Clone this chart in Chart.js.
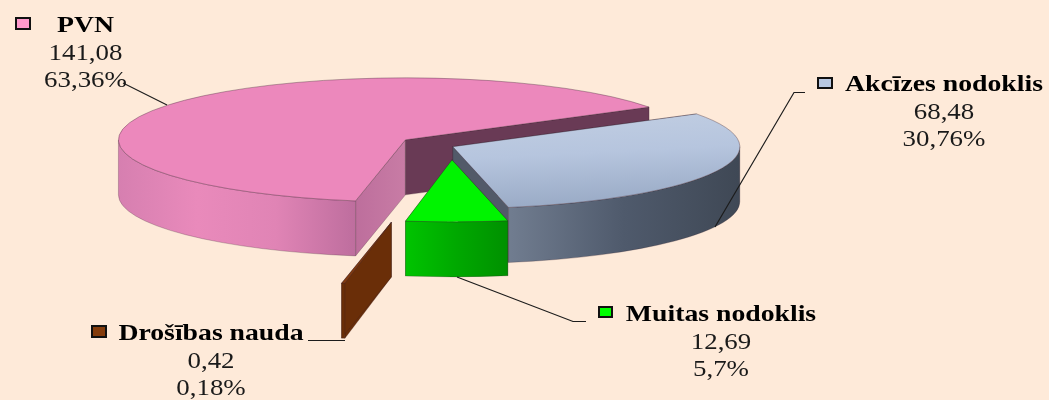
<!DOCTYPE html>
<html>
<head>
<meta charset="utf-8">
<script src="https://cdn.jsdelivr.net/npm/chart.js@4"></script>
<style>
  html, body { margin: 0; padding: 0; background: #feead9; }
  canvas { display: block; filter: blur(0.45px); }
</style>
</head>
<body>
<canvas id="taxChart" width="1049" height="400"></canvas>
<script>
// Chart data
const categories = ["PVN", "Akcīzes nodoklis", "Muitas nodoklis", "Drošības nauda"];
const amounts = [141.08, 68.48, 12.69, 0.42];
const amountLabels = ["141,08", "68,48", "12,69", "0,42"];
const shareLabels = ["63,36%", "30,76%", "5,7%", "0,18%"];

// Look of the tilted pie
const squash = 0.216;
const depth = 55;
const explode = [55, 2, 62, 355];
const drawOrder = [0, 3, 1, 2];
const swatchColors = ["#ff99cc", "#b8c8e2", "#00ff00", "#843c0c"];
const titleStretch = 1.155;
const textStretch = 1.12;

const labelBoxes = [
  { x: 85.5, y: 32, swatch: [15, 17, 16, 13] },
  { x: 944, y: 91, swatch: [817, 77, 16, 12] },
  { x: 721, y: 321, swatch: [598, 306, 15, 12] },
  { x: 211, y: 340, swatch: [91, 325, 16, 13] },
];
const leaders = [
  [[123, 83], [167, 105]],
  [[715, 227], [794, 92.5], [805, 92.5]],
  [[457, 277], [573, 321.5], [586, 321.5]],
  [[308, 340.5], [345, 340.5]],
];

const canvas = document.getElementById("taxChart");
const ctx = canvas.getContext("2d");

function hGradient(x0, x1, stops) {
  const g = ctx.createLinearGradient(x0, 0, x1, 0);
  stops.forEach((c, i) => g.addColorStop(i / (stops.length - 1), c));
  return g;
}

const akcizesTop = ctx.createLinearGradient(520, -100, 640, 400);
akcizesTop.addColorStop(0, "#c6d2e4");
akcizesTop.addColorStop(0.55, "#b6c5de");
akcizesTop.addColorStop(1, "#9aabc6");

const wallFills = [
  hGradient(118, 355, ["#d67fb0", "#e98abb", "#e084b5", "#be6e9e"]),
  hGradient(508, 739, ["#717d90", "#4f5a6c", "#3f4855"]),
  hGradient(405, 509, ["#00c400", "#00a800", "#009000"]),
  "#6a2e08",
];
const startFaces = [hGradient(355, 405, ["#bd6e9c", "#c87ca5"]), "#525a69", "#009000", "#6a2e08"];
const endFaces = ["#693a55", "#525a69", "#00c400", "#6a2e08"];

function edgeFace(el, dx, dy, angle, fill) {
  const x0 = el.x + dx;
  const y0 = el.y + dy;
  const x1 = x0 + Math.cos(angle) * el.outerRadius;
  const y1 = y0 + Math.sin(angle) * el.outerRadius * squash;
  ctx.beginPath();
  ctx.moveTo(x0, y0);
  ctx.lineTo(x1, y1);
  ctx.lineTo(x1, y1 + depth);
  ctx.lineTo(x0, y0 + depth);
  ctx.closePath();
  ctx.fillStyle = fill;
  ctx.fill();
  ctx.strokeStyle = "rgba(50,30,40,0.35)";
  ctx.lineWidth = 0.7;
  ctx.stroke();
}

function outerWall(el, dx, dy, fill) {
  // only the part of the rim on the front half of the ellipse can be seen
  let from = el.startAngle;
  let to = el.endAngle;
  if (from > Math.PI) {
    from -= Math.PI * 2;
    to -= Math.PI * 2;
  }
  from = Math.max(from, 0);
  to = Math.min(to, Math.PI);
  if (to <= from) return;
  const a = el.outerRadius;
  const b = a * squash;
  ctx.beginPath();
  ctx.ellipse(el.x + dx, el.y + dy, a, b, 0, from, to);
  ctx.ellipse(el.x + dx, el.y + dy + depth, a, b, 0, to, from, true);
  ctx.closePath();
  ctx.fillStyle = fill;
  ctx.fill();
  ctx.strokeStyle = "rgba(50,30,40,0.35)";
  ctx.lineWidth = 0.7;
  ctx.stroke();
}

const tiltedPie = {
  id: "tiltedPie",
  beforeDatasetsDraw(chart) {
    const arcs = chart.getDatasetMeta(0).data;
    drawOrder.forEach((i) => {
      const el = arcs[i];
      const mid = (el.startAngle + el.endAngle) / 2;
      const dx = Math.cos(mid) * explode[i];
      const dy = Math.sin(mid) * explode[i] * squash;
      edgeFace(el, dx, dy, el.startAngle, startFaces[i]);
      edgeFace(el, dx, dy, el.endAngle, endFaces[i]);
      outerWall(el, dx, dy, wallFills[i]);
      ctx.save();
      ctx.translate(el.x + dx, el.y + dy);
      ctx.scale(1, squash);
      ctx.translate(-el.x, -el.y);
      el.draw(ctx);
      ctx.restore();
    });
    return false;
  },
};

function stretchedText(text, x, y, font, color, stretch) {
  ctx.save();
  ctx.translate(x, y);
  ctx.scale(stretch, 1);
  ctx.font = font;
  ctx.fillStyle = color;
  ctx.textAlign = "center";
  ctx.textBaseline = "alphabetic";
  ctx.fillText(text, 0, 0);
  ctx.restore();
}

const sliceLabels = {
  id: "sliceLabels",
  afterDraw() {
    ctx.strokeStyle = "#1c1c1c";
    ctx.lineWidth = 1.2;
    leaders.forEach((pts) => {
      ctx.beginPath();
      pts.forEach((p, n) => (n ? ctx.lineTo(p[0], p[1]) : ctx.moveTo(p[0], p[1])));
      ctx.stroke();
    });
    categories.forEach((name, i) => {
      const box = labelBoxes[i];
      stretchedText(name, box.x, box.y, "bold 24px 'Liberation Serif'", "#000", titleStretch);
      stretchedText(amountLabels[i], box.x, box.y + 28, "24px 'Liberation Serif'", "#1a1a1a", textStretch);
      stretchedText(shareLabels[i], box.x, box.y + 54.5, "24px 'Liberation Serif'", "#1a1a1a", textStretch);
      const s = box.swatch;
      ctx.fillStyle = swatchColors[i];
      ctx.fillRect(s[0], s[1], s[2], s[3]);
      ctx.strokeStyle = "#111";
      ctx.lineWidth = 2;
      ctx.strokeRect(s[0] + 1, s[1] + 1, s[2] - 2, s[3] - 2);
    });
  },
};

new Chart(ctx, {
  type: "pie",
  data: {
    labels: categories,
    datasets: [
      {
        data: amounts,
        backgroundColor: ["#ec88bc", akcizesTop, "#00f400", "#7f3a10"],
        borderColor: "rgba(60,35,50,0.6)",
        borderWidth: 1,
      },
    ],
  },
  options: {
    responsive: false,
    animation: false,
    rotation: 190,
    radius: 287,
    layout: { padding: { right: 147, bottom: 107 } },
    plugins: {
      legend: { display: false },
      tooltip: { enabled: false },
    },
  },
  plugins: [tiltedPie, sliceLabels],
});
</script>
</body>
</html>
